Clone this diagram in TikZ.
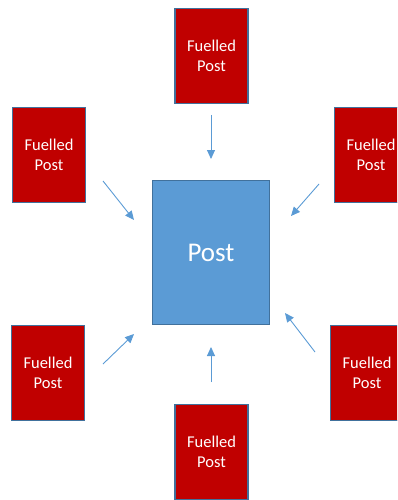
\documentclass[tikz,border=0pt]{standalone}
\usepackage{fontspec}
\setmainfont{Carlito}
\usetikzlibrary{arrows.meta}
\definecolor{fuelred}{HTML}{C00000}
\definecolor{postblue}{HTML}{5B9BD5}
\definecolor{edgeblue}{HTML}{41719C}
\tikzset{
  fuel/.style={draw=edgeblue,line width=1.3pt,fill=fuelred,text=white,align=center,
    minimum width=73pt,minimum height=95pt,inner sep=0pt,font=\fontsize{16.5}{20}\selectfont},
  post/.style={draw=edgeblue,line width=1.3pt,fill=postblue,text=white,
    minimum width=117pt,minimum height=144pt,inner sep=0pt,font=\fontsize{27}{30}\selectfont},
  feed/.style={draw=postblue,line width=0.9pt,-{Triangle[length=9pt,width=8pt]}}
}
\begin{document}
\begin{tikzpicture}[x=1pt,y=-1pt]
			\useasboundingbox (0,0) rectangle (397,500);
			\clip (0,0) rectangle (397,500);
			\node[post] (p) at (211,252.5) {Post};
			\foreach \n/\x/\y in {t/211.5/56,ul/49/155,ur/371/155,ll/48/373,b/211.5/452,lr/367/373}
				{\node[fuel] (\n) at (\x,\y) {Fuelled\\Post};}
			% arrow ends
			\coordinate (t1) at (211,115);  \coordinate (t2) at (211,159);
			\coordinate (ul1) at (103,181); \coordinate (ul2) at (134,220);
			\coordinate (ur1) at (319,184); \coordinate (ur2) at (291,216);
			\coordinate (ll1) at (103,364); \coordinate (ll2) at (134,334);
			\coordinate (b1) at (211,382);  \coordinate (b2) at (211,347);
			\coordinate (lr1) at (315,352); \coordinate (lr2) at (285,313);
			\foreach \a in {t,ul,ur,ll,b,lr}{\draw[feed] (\a1)--(\a2);}
		\end{tikzpicture}
\end{document}
